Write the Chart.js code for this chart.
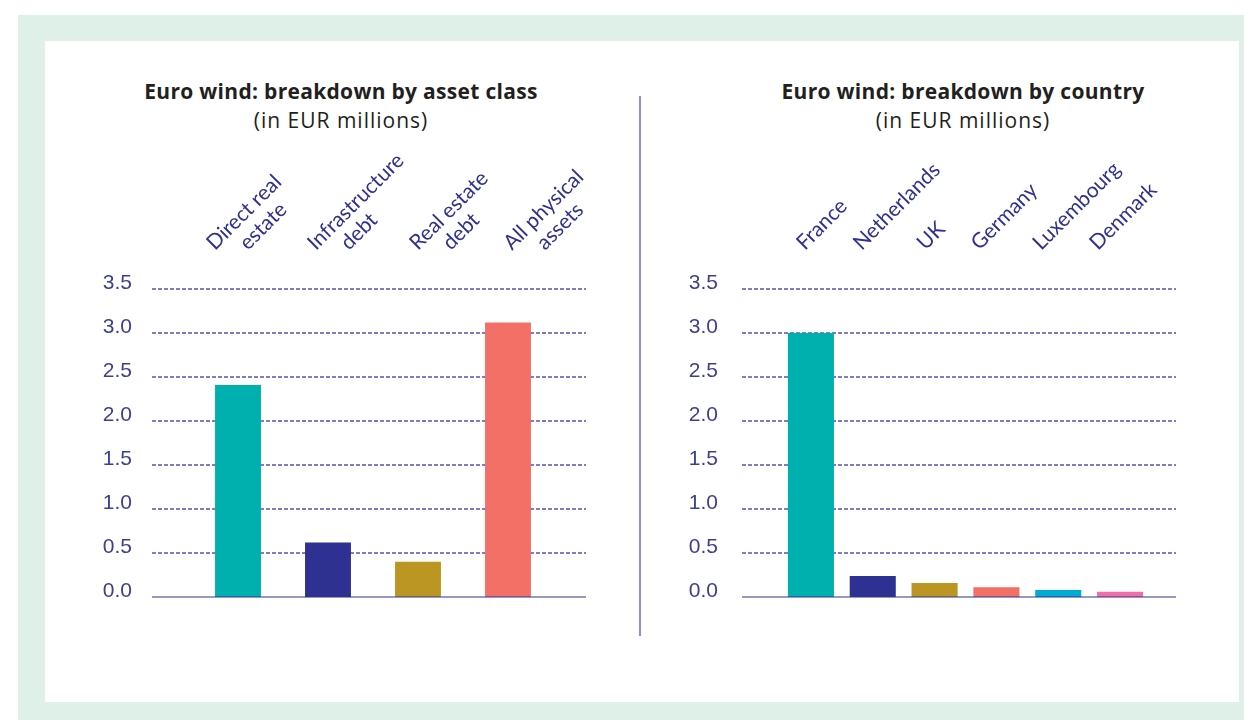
<!DOCTYPE html>
<html>
<head>
<meta charset="utf-8">
<script src="https://cdn.jsdelivr.net/npm/chart.js@4"></script>
<style>
  body { margin: 0; width: 1244px; height: 720px; background: #fff; position: relative; overflow: hidden; }
  .frame { position: absolute; left: 18px; top: 15px; width: 1240px; height: 720px; background: #dff0e8; }
  .panel { position: absolute; left: 45px; top: 41px; width: 1194px; height: 661px; background: #fff; }
  .title { position: absolute; top: 76px; width: 560px; text-align: center; font-family: "Open Sans", sans-serif; color: #231f20; }
  .title b { display: block; font-size: 21px; font-weight: 700; line-height: 30px; letter-spacing: 0.3px; }
  .title span { display: block; font-size: 21px; line-height: 28px; letter-spacing: 1px; }
  .divider { position: absolute; left: 639px; top: 96px; width: 2px; height: 540px; background: #8e90d2; }
  canvas { position: absolute; }
</style>
</head>
<body>
<div class="frame"></div>
<div class="panel"></div>
<div class="title" style="left:61px"><b>Euro wind: breakdown by asset class</b><span>(in EUR millions)</span></div>
<div class="title" style="left:683px"><b>Euro wind: breakdown by country</b><span>(in EUR millions)</span></div>
<div class="divider"></div>
<canvas id="assetChart" width="560" height="530" style="left:60px;top:150px;width:560px;height:530px"></canvas>
<canvas id="countryChart" width="560" height="530" style="left:650px;top:150px;width:560px;height:530px"></canvas>
<script>
// Daten: Aufteilung nach Anlageklasse
const assetLabels = [['Direct real', 'estate'], ['Infrastructure', 'debt'], ['Real estate', 'debt'], ['All physical', 'assets']];
const assetValues = [2.41, 0.62, 0.40, 3.12];
const assetColors = ['#00b0af', '#2e3192', '#bb9622', '#f27066'];

// Daten: Aufteilung nach Land
const countryLabels = ['France', 'Netherlands', 'UK', 'Germany', 'Luxembourg', 'Denmark'];
const countryValues = [3.0, 0.24, 0.16, 0.11, 0.08, 0.06];
const countryColors = ['#00b0af', '#2e3192', '#bb9622', '#f27066', '#00acd4', '#f06fab'];

const yTicks = [0, 0.5, 1.0, 1.5, 2.0, 2.5, 3.0, 3.5];

const navy = '#2e3192';

// Gestrichelte Gitterlinien + Nulllinie, etwas breiter als die Chartfläche
const gridPlugin = {
    id: 'wideGrid',
    beforeDatasetsDraw(chart, args, opts) {
        const { ctx, chartArea, scales } = chart;
        ctx.save();
        ctx.strokeStyle = 'rgba(50, 53, 165, 0.85)';
        ctx.lineWidth = 1.3;
        ctx.setLineDash([4, 2]);
        yTicks.forEach(v => {
            if (v === 0) return;
            const y = Math.round(scales.y.getPixelForValue(v));
            ctx.beginPath();
            ctx.moveTo(chartArea.left - opts.extLeft, y);
            ctx.lineTo(chartArea.right + opts.extRight, y);
            ctx.stroke();
        });
        ctx.restore();
    },
    afterDatasetsDraw(chart, args, opts) {
        const { ctx, chartArea, scales } = chart;
        const y = scales.y.getPixelForValue(0);
        ctx.save();
        ctx.strokeStyle = 'rgba(46, 49, 146, 0.5)';
        ctx.lineWidth = 2;
        ctx.beginPath();
        ctx.moveTo(chartArea.left - opts.extLeft, y);
        ctx.lineTo(chartArea.right + opts.extRight, y);
        ctx.stroke();
        ctx.restore();
    }
};

// Schraege Kategorien oberhalb der Chartfläche (von Hand leicht verschoben wie im Original)
const topLabelPlugin = {
    id: 'topLabels',
    afterDraw(chart, args, opts) {
        const { ctx, scales } = chart;
        ctx.save();
        ctx.fillStyle = navy;
        ctx.font = '21px Lato, sans-serif';
        ctx.textAlign = 'left';
        ctx.textBaseline = 'alphabetic';
        chart.data.labels.forEach((label, i) => {
            const lines = Array.isArray(label) ? label : [label];
            const cx = scales.x.getPixelForValue(i) + opts.shift[i];
            lines.forEach((line, j) => {
                ctx.save();
                ctx.translate(cx + j * 33, opts.baseY);
                ctx.rotate(-Math.PI / 4);
                ctx.fillText(line, 0, 0);
                ctx.restore();
            });
        });
        ctx.restore();
    }
};

function makeChart(id, labels, values, colors, barPct, pad, grid, labelOpts) {
    return new Chart(document.getElementById(id), {
        type: 'bar',
        data: {
            labels: labels,
            datasets: [{
                data: values,
                backgroundColor: colors,
                barPercentage: barPct,
                categoryPercentage: 1
            }]
        },
        options: {
            responsive: false,
            animation: false,
            layout: { padding: pad },
            plugins: {
                legend: { display: false },
                tooltip: { enabled: false },
                wideGrid: grid,
                topLabels: labelOpts
            },
            scales: {
                x: {
                    display: false
                },
                y: {
                    min: 0,
                    max: 3.5,
                    afterBuildTicks: s => { s.ticks = yTicks.map(v => ({ value: v })); },
                    afterFit: s => { s.width = 101; },
                    border: { display: false },
                    grid: { display: false, drawTicks: false },
                    ticks: {
                        padding: pad.tickPad,
                        labelOffset: -6,
                        color: '#3d3f93',
                        font: { family: 'Liberation Sans, Arial, sans-serif', size: 21 },
                        callback: v => Number(v).toFixed(1)
                    }
                }
            }
        },
        plugins: [gridPlugin, topLabelPlugin]
    });
}

// Chartfläche: oben y=289, unten y=597 (Seitenkoordinaten)
makeChart('assetChart', assetLabels, assetValues, assetColors, 0.51,
    { top: 139, bottom: 83, left: 32, right: 67, tickPad: 61 },
    { extLeft: 41, extRight: 33 },
    { shift: [-23, -12, 0, 4], baseY: 101 });

makeChart('countryChart', countryLabels, countryValues, countryColors, 0.745,
    { top: 139, bottom: 83, left: 29, right: 59, tickPad: 62 },
    { extLeft: 38, extRight: 25 },
    { shift: [-6, -11, -9, -17, -17, -22], baseY: 101 });
</script>
</body>
</html>
